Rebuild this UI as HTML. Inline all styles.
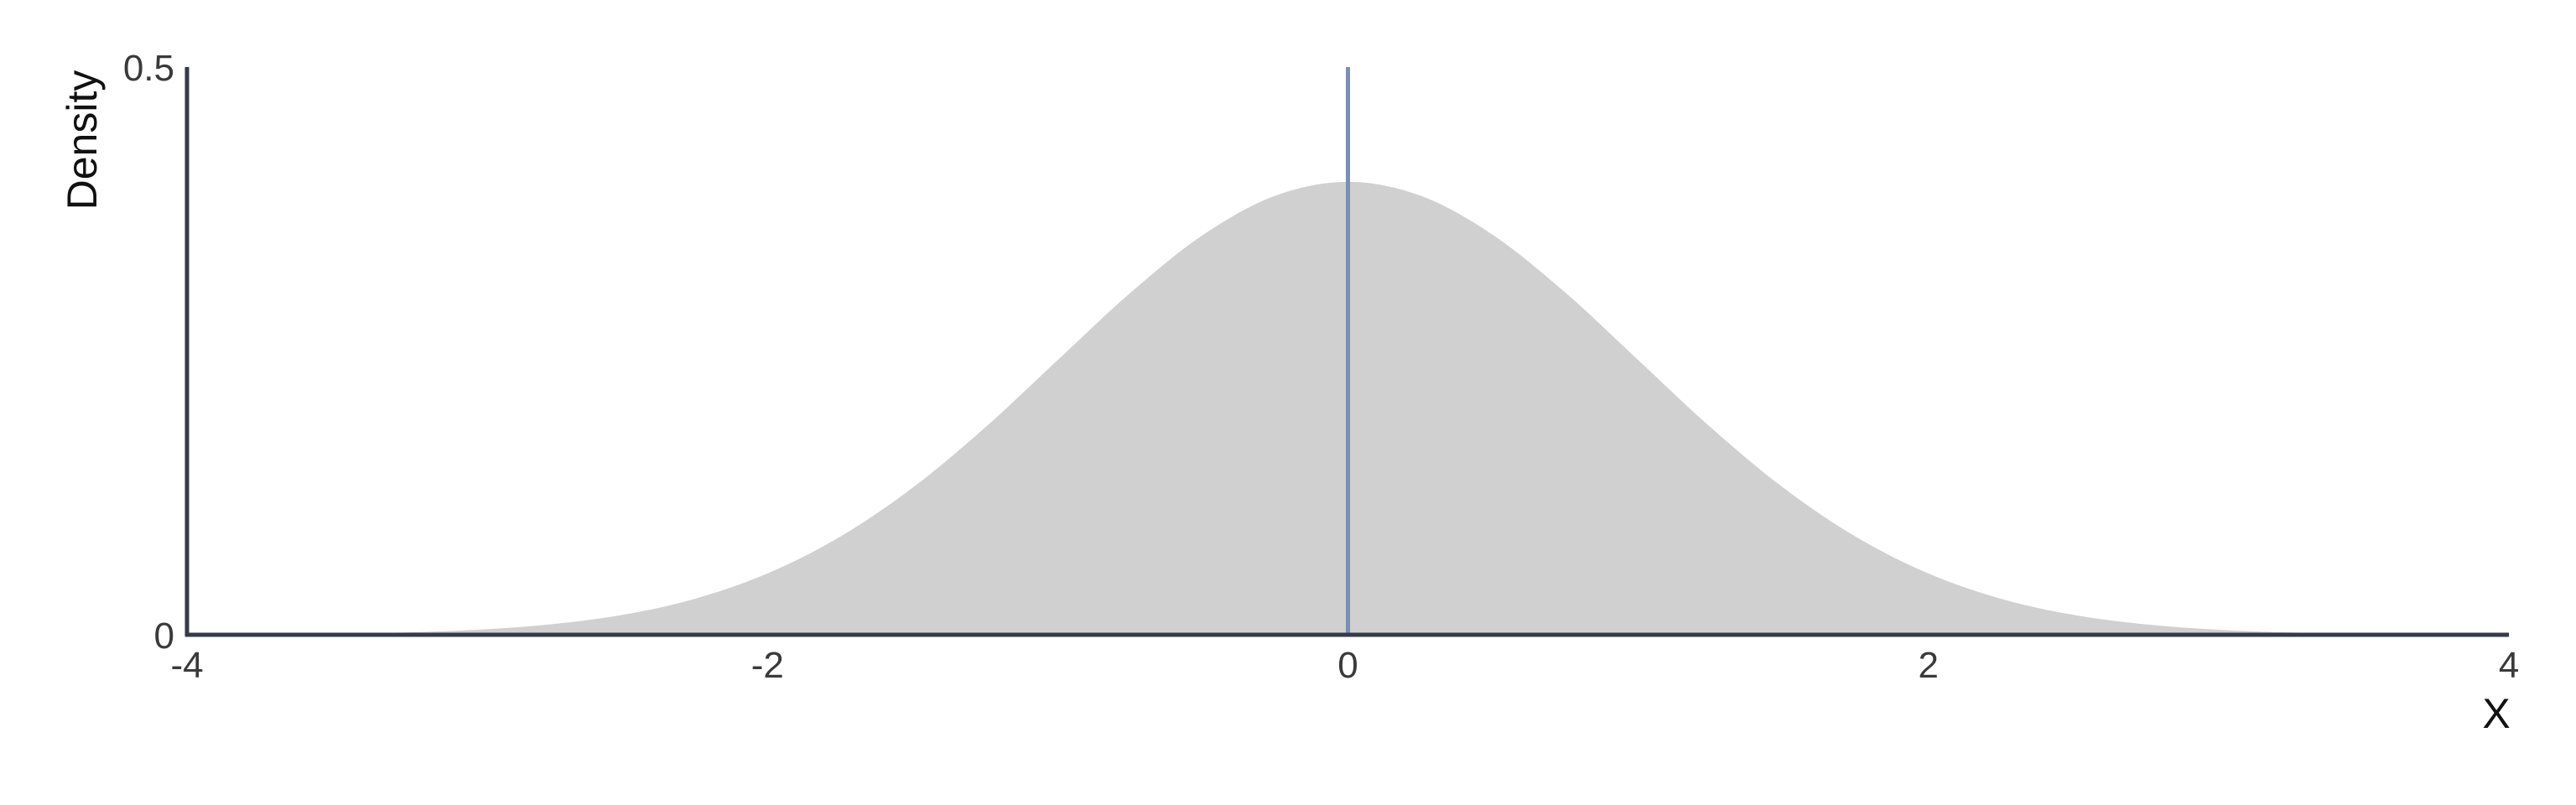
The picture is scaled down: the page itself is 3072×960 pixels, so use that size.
<!DOCTYPE html>
<html><head><meta charset="utf-8"><style>
html,body{margin:0;padding:0;background:#fff;}
svg{display:block;}
text{font-family:"Liberation Sans",sans-serif;}
</style></head><body>
<svg id="chart" width="3072" height="960" viewBox="0 0 3072 960">
<g id="plot"></g>
</svg>
<script>
const xValues = [-4,-3.75,-3.5,-3.25,-3,-2.75,-2.5,-2.25,-2,-1.75,-1.5,-1.25,-1,-0.75,-0.5,-0.25,0,0.25,0.5,0.75,1,1.25,1.5,1.75,2,2.25,2.5,2.75,3,3.25,3.5,3.75,4];
const densityValues = [0.0001,0.0004,0.0009,0.0020,0.0044,0.0091,0.0175,0.0317,0.0540,0.0863,0.1295,0.1826,0.2420,0.3011,0.3521,0.3867,0.3989,0.3867,0.3521,0.3011,0.2420,0.1826,0.1295,0.0863,0.0540,0.0317,0.0175,0.0091,0.0044,0.0020,0.0009,0.0004,0.0001];
const xTicks = [-4,-2,0,2,4];
const xTickLabels = ["-4","-2","0","2","4"];
const yTicks = [0,0.5];
const yTickLabels = ["0","0.5"];
const markerX = [0];

const NS="http://www.w3.org/2000/svg";
const g=document.getElementById('plot');
const X0=223,X1=2992,Y0=757,Y1=80;
const sx=v=>X0+(v+4)/8*(X1-X0);
const sy=v=>Y0-v/0.5*(Y0-Y1);
function mk(tag,attrs){const e=document.createElementNS(NS,tag);for(const k in attrs)e.setAttribute(k,attrs[k]);g.appendChild(e);return e;}

const pts=xValues.map((x,i)=>[sx(x),sy(densityValues[i])]);
let d=`M${sx(xValues[0])},${Y0} L${pts[0][0]},${pts[0][1]}`;
for(let i=0;i<pts.length-1;i++){
  const p0=pts[Math.max(0,i-1)],p1=pts[i],p2=pts[i+1],p3=pts[Math.min(pts.length-1,i+2)];
  const c1=[p1[0]+(p2[0]-p0[0])/6,p1[1]+(p2[1]-p0[1])/6];
  const c2=[p2[0]-(p3[0]-p1[0])/6,p2[1]-(p3[1]-p1[1])/6];
  d+=` C${c1[0]},${c1[1]} ${c2[0]},${c2[1]} ${p2[0]},${p2[1]}`;
}
d+=` L${sx(xValues[xValues.length-1])},${Y0} Z`;
const area=mk('path',{d:d,fill:'#d0d0d0'});



markerX.forEach(v=>{
  const l=mk('line',{x1:sx(v),x2:sx(v),y1:Y1,y2:Y0,stroke:'#7a8fb5','stroke-width':5});
  
  
});

const ya=mk('line',{x1:X0,x2:X0,y1:Y1,y2:Y0+2,stroke:'#353b48','stroke-width':5});


const xa=mk('line',{x1:X0-2,x2:X1,y1:Y0,y2:Y0,stroke:'#353b48','stroke-width':5});



xTicks.forEach((v,i)=>{
  const t=mk('text',{x:sx(v),y:808,'text-anchor':'middle','font-size':44,fill:'#3a3a3a'});
  t.textContent=xTickLabels[i];
  
  
});
yTicks.forEach((v,i)=>{
  const t=mk('text',{x:208,y:sy(v)+16,'text-anchor':'end','font-size':44,fill:'#3a3a3a'});
  t.textContent=yTickLabels[i];
  
  
});
const xt=mk('text',{x:2977,y:868,'text-anchor':'middle','font-size':50,fill:'#111'});
xt.textContent='X';


const yt=mk('text',{x:0,y:0,'text-anchor':'middle','font-size':50,fill:'#111',transform:'translate(115,167) rotate(-90)'});
yt.textContent='Density';


</script>
</body></html>
